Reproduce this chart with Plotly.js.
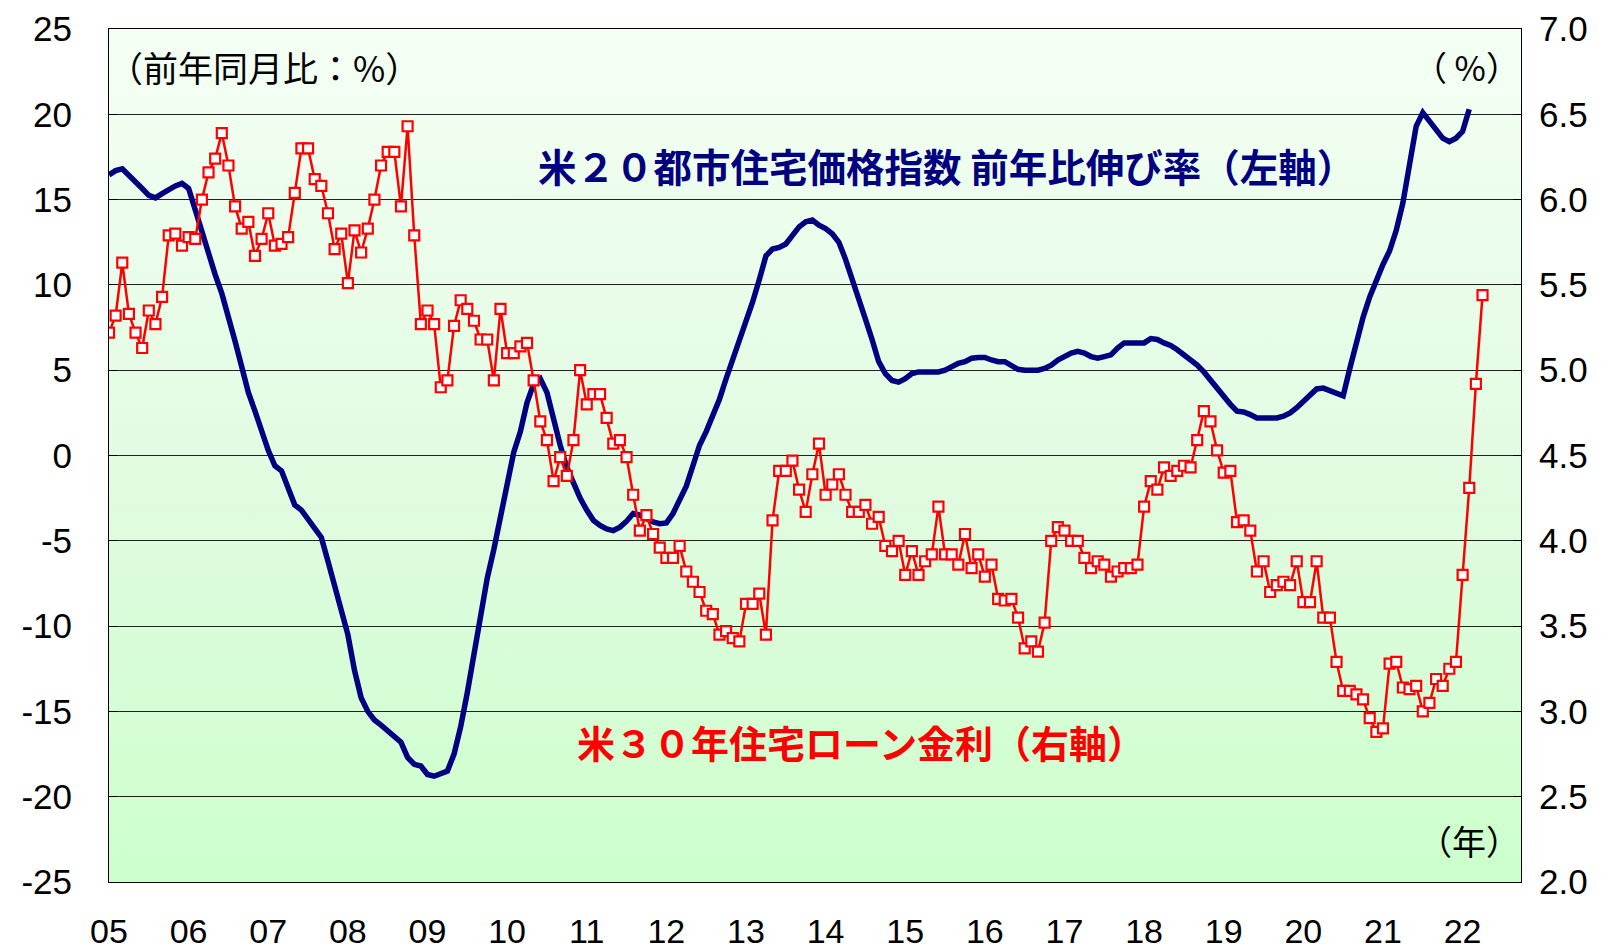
<!DOCTYPE html>
<html>
<head>
<meta charset="utf-8">
<script src="https://cdn.plot.ly/plotly-3.0.1.min.js"></script>
<style>
  html, body { margin: 0; padding: 0; background: #ffffff; }
  #wrap { position: relative; width: 1622px; height: 951px; }
  #bg { position: absolute; left: 109px; top: 29px; width: 1412px; height: 853px;
        background: linear-gradient(to bottom, #f4fff4 0%, #e2fbe2 50%, #ccffcc 100%); z-index: 0; }
  #chart { position: absolute; left: 0; top: 0; width: 1622px; height: 951px; z-index: 1; }
</style>
</head>
<body>
<div id="wrap">
  <div id="bg"></div>
  <div id="chart"></div>
</div>
<script>
// Year labels (ticks at each January, monthly data starting Jan 2005)
const yearLabels = ['05','06','07','08','09','10','11','12','13','14','15','16','17','18','19','20','21','22'];

// Left axis ticks (前年同月比 %)
const leftTickVals = [-25,-20,-15,-10,-5,0,5,10,15,20,25];
const leftTickText = ['-25','-20','-15','-10','-5','0','5','10','15','20','25'];

// Right axis ticks (%)
const rightTickVals = [2.0,2.5,3.0,3.5,4.0,4.5,5.0,5.5,6.0,6.5,7.0];
const rightTickText = ['2.0','2.5','3.0','3.5','4.0','4.5','5.0','5.5','6.0','6.5','7.0'];

// 米20都市住宅価格指数 前年比伸び率 (%, left axis), monthly from Jan 2005
const caseShillerYoY = [
  16.45,16.7,16.8,16.45,16.05,15.65,15.25,15.1,15.35,15.6,15.8,15.95,
  15.65,14.4,13.1,11.8,10.6,9.5,8.2,6.7,5.2,3.7,2.6,1.4,
  0.3,-0.6,-0.9,-1.9,-2.9,-3.2,-3.7,-4.2,-4.8,-6.2,-7.6,-8.9,
  -10.5,-12.6,-14.2,-15.0,-15.5,-15.8,-16.1,-16.5,-16.8,-17.7,-18.1,-18.2,
  -18.7,-18.8,-18.65,-18.5,-17.5,-15.9,-13.9,-11.6,-9.3,-7.2,-5.5,-3.6,
  -1.4,0.2,1.4,3.1,4.2,4.5,3.7,2.1,0.6,-0.7,-1.7,-2.5,
  -3.2,-3.8,-4.1,-4.3,-4.4,-4.2,-3.85,-3.4,-3.5,-3.7,-3.9,-4.0,
  -3.95,-3.4,-2.5,-1.8,-0.6,0.6,1.4,2.3,3.3,4.5,5.6,6.7,
  7.8,9.0,10.3,11.7,12.1,12.2,12.4,12.9,13.4,13.7,13.8,13.5,
  13.3,13.0,12.5,11.5,10.4,9.3,8.0,6.8,5.5,4.8,4.4,4.3,
  4.5,4.8,4.9,4.9,4.9,4.9,5.0,5.2,5.4,5.5,5.7,5.75,
  5.75,5.6,5.5,5.5,5.3,5.05,5.0,5.0,5.0,5.1,5.3,5.6,
  5.8,6.0,6.1,6.0,5.8,5.7,5.8,5.9,6.3,6.6,6.6,6.6,
  6.6,6.85,6.8,6.6,6.45,6.2,5.9,5.7,5.3,4.9,4.4,3.9,
  3.4,3.0,2.6,2.55,2.4,2.2,2.2,2.2,2.2,2.3,2.5,2.8,
  3.2,3.5,3.9,3.95,3.8,3.6,3.5,5.1,6.7,8.1,9.3,10.3,
  11.2,12.0,13.2,14.8,17.2,19.3,20.1,19.6,19.0,18.6,18.4,18.6,
  19.0,20.3
];

// 米30年住宅ローン金利 (%, right axis), monthly from Jan 2005
const mortgageRate = [
  5.22,5.32,5.63,5.33,5.22,5.13,5.35,5.27,5.43,5.79,5.80,5.73,
  5.78,5.77,6.00,6.16,6.24,6.39,6.20,5.96,5.83,5.87,5.67,5.77,
  5.92,5.73,5.74,5.78,6.04,6.30,6.30,6.12,6.08,5.92,5.71,5.80,
  5.51,5.82,5.69,5.83,6.00,6.20,6.28,6.28,5.96,6.43,5.79,5.27,
  5.35,5.27,4.90,4.94,5.26,5.41,5.36,5.29,5.18,5.18,4.94,5.36,
  5.10,5.10,5.14,5.16,4.94,4.70,4.59,4.35,4.49,4.38,4.59,5.00,
  4.80,4.86,4.86,4.72,4.57,4.59,4.49,4.27,4.06,4.15,4.04,3.96,
  3.90,3.90,3.97,3.82,3.76,3.70,3.59,3.57,3.45,3.47,3.43,3.41,
  3.63,3.63,3.69,3.45,4.12,4.41,4.41,4.47,4.30,4.17,4.39,4.57,
  4.27,4.33,4.39,4.27,4.17,4.17,4.21,4.10,4.14,3.97,3.94,4.00,
  3.80,3.94,3.80,3.88,3.92,4.20,3.92,3.92,3.86,4.04,3.84,3.92,
  3.79,3.86,3.66,3.65,3.66,3.55,3.37,3.41,3.35,3.52,4.00,4.08,
  4.06,4.00,4.00,3.90,3.84,3.88,3.86,3.79,3.82,3.84,3.84,3.86,
  4.20,4.35,4.30,4.43,4.38,4.41,4.44,4.43,4.59,4.76,4.70,4.53,
  4.40,4.41,4.11,4.12,4.06,3.82,3.88,3.70,3.74,3.76,3.74,3.88,
  3.64,3.64,3.88,3.55,3.55,3.29,3.12,3.12,3.10,3.07,2.96,2.88,
  2.90,3.28,3.29,3.14,3.13,3.15,3.00,3.05,3.19,3.15,3.25,3.29,
  3.80,4.31,4.92,5.44
];

const monthsPerYear = 12;
const xBlue = caseShillerYoY.map((_, i) => i);
const xRed = mortgageRate.map((_, i) => i);
const tickVals = yearLabels.map((_, i) => i * monthsPerYear);
const xRange = [0, 212.8];

const W = 1622, H = 951;
const L = 109, R = 101, T = 29, B = 69;
const jpFont = '"Noto Sans CJK JP", "Noto Sans", sans-serif';
const numFont = '"Liberation Sans", Arial, sans-serif';

const traces = [
  {
    x: xBlue, y: caseShillerYoY, type: 'scatter', mode: 'lines',
    line: { color: '#000080', width: 5.5 }, xaxis: 'x', yaxis: 'y',
    hoverinfo: 'skip', showlegend: false
  },
  {
    x: xRed, y: mortgageRate, type: 'scatter', mode: 'lines+markers',
    line: { color: '#ff0000', width: 2.5 },
    marker: { symbol: 'square', size: 10, color: '#ffffff', line: { color: '#ff0000', width: 2.2 } },
    xaxis: 'x', yaxis: 'y2', hoverinfo: 'skip', showlegend: false
  }
];

const layout = {
  width: W, height: H,
  margin: { l: L, r: R, t: T, b: B, pad: 0 },
  paper_bgcolor: 'rgba(0,0,0,0)',
  plot_bgcolor: 'rgba(0,0,0,0)',
  showlegend: false,
  font: { family: numFont, color: '#000000' },
  xaxis: {
    range: xRange, tickmode: 'array', tickvals: tickVals, ticktext: yearLabels,
    showgrid: false, zeroline: false, ticks: '',
    showline: true, mirror: true, linecolor: '#000000', linewidth: 1,
    tickfont: { family: numFont, size: 34, color: '#000000' },
    ticklabelstandoff: 19
  },
  xaxis2: {
    range: xRange, overlaying: 'x', anchor: 'free', position: 0.5, side: 'top',
    tickmode: 'array', tickvals: tickVals, showticklabels: false,
    ticks: 'outside', ticklen: 7, tickcolor: '#000000', tickwidth: 1,
    showgrid: false, zeroline: false, showline: false
  },
  yaxis: {
    range: [-25, 25], tickmode: 'array', tickvals: leftTickVals, ticktext: leftTickText,
    showgrid: true, gridcolor: '#222222', gridwidth: 1,
    zeroline: false, showline: true, mirror: true, linecolor: '#000000', linewidth: 1,
    ticks: 'inside', ticklen: 8, tickcolor: '#000000',
    tickfont: { family: numFont, size: 35, color: '#000000' },
    ticklabelstandoff: 29
  },
  yaxis2: {
    range: [2, 7], tickmode: 'array', tickvals: rightTickVals, ticktext: rightTickText,
    overlaying: 'y', side: 'right', anchor: 'x',
    showgrid: false, zeroline: false, showline: false,
    ticks: 'inside', ticklen: 8, tickcolor: '#000000',
    tickfont: { family: numFont, size: 35, color: '#000000' },
    ticklabelstandoff: 17
  },
  annotations: [
    { text: '米２０都市住宅価格指数 前年比伸び率（左軸）', xref: 'paper', yref: 'paper',
      x: 0.3024, y: 0.840, xanchor: 'left', yanchor: 'middle', showarrow: false,
      font: { family: jpFont, size: 38.5, color: '#000080', weight: 'bold' } },
    { text: '米３０年住宅ローン金利（右軸）', xref: 'paper', yref: 'paper',
      x: 0.330, y: 0.1645, xanchor: 'left', yanchor: 'middle', showarrow: false,
      font: { family: jpFont, size: 38, color: '#ff0000', weight: 'bold' } },
    { text: '（前年同月比：%）', xref: 'paper', yref: 'paper',
      x: -0.002, y: 0.9555, xanchor: 'left', yanchor: 'middle', showarrow: false,
      font: { family: jpFont, size: 35, color: '#000000' } },
    { text: '（ %）', xref: 'paper', yref: 'paper',
      x: 1.001, y: 0.9555, xanchor: 'right', yanchor: 'middle', showarrow: false,
      font: { family: jpFont, size: 34, color: '#000000' } },
    { text: '（年）', xref: 'paper', yref: 'paper',
      x: 1.001, y: 0.0492, xanchor: 'right', yanchor: 'middle', showarrow: false,
      font: { family: jpFont, size: 34, color: '#000000' } }
  ]
};

Plotly.newPlot('chart', traces, layout, { staticPlot: true, displayModeBar: false });
</script>
</body>
</html>
